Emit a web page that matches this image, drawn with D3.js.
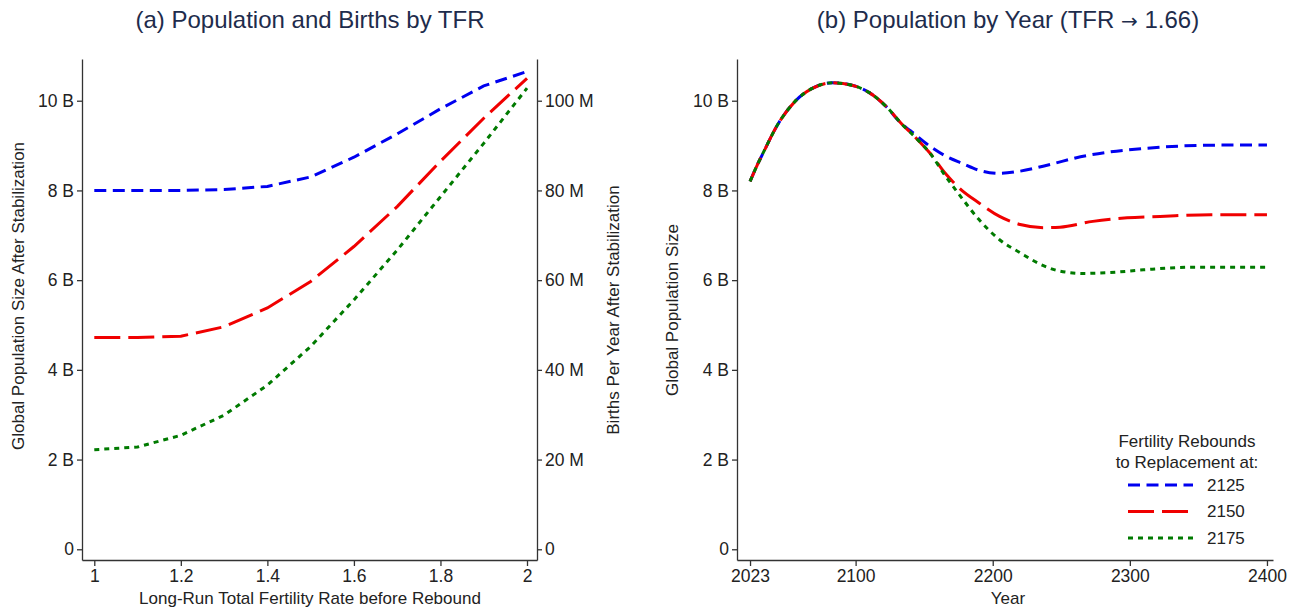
<!DOCTYPE html>
<html>
<head>
<meta charset="utf-8">
<script src="https://cdn.jsdelivr.net/npm/d3@7"></script>
<style>
  body { margin: 0; background: #fff; }
  svg { font-family: "Liberation Sans", Arial, sans-serif; }
  .tick text { font-size: 17.5px; fill: #222; }
  .domain, .tick line { stroke: #333; stroke-width: 1.3; }
</style>
</head>
<body>
<div id="chart"></div>
<script>
// panel (a): stabilised population by long-run TFR
const tfr = [1.0, 1.1, 1.2, 1.3, 1.4, 1.5, 1.6, 1.7, 1.8, 1.9, 2.0];
const popA2125 = [8.0, 8.0, 8.0, 8.02, 8.09, 8.3, 8.74, 9.26, 9.82, 10.33, 10.65];
const popA2150 = [4.72, 4.72, 4.75, 4.96, 5.38, 5.97, 6.75, 7.64, 8.65, 9.61, 10.5];
const popA2175 = [2.22, 2.28, 2.54, 2.99, 3.66, 4.52, 5.56, 6.67, 7.86, 9.05, 10.28];

// panel (b): population by year
const years2125 = [2023, 2028, 2032, 2044, 2056, 2068, 2083, 2098, 2110, 2122, 2134, 2140, 2154, 2166, 2178, 2190, 2205, 2220, 2242, 2264, 2286, 2308, 2337, 2366, 2400];
const popB2125  = [8.2, 8.55, 8.8, 9.51, 9.99, 10.27, 10.4, 10.34, 10.18, 9.88, 9.47, 9.33, 8.99, 8.76, 8.6, 8.45, 8.38, 8.43, 8.58, 8.75, 8.86, 8.93, 8.99, 9.01, 9.01];
const years2150 = [2023, 2028, 2032, 2044, 2056, 2068, 2083, 2098, 2110, 2122, 2134, 2144, 2154, 2166, 2176, 2190, 2205, 2220, 2237, 2249, 2273, 2298, 2322, 2359, 2400];
const popB2150  = [8.2, 8.55, 8.8, 9.51, 9.99, 10.27, 10.4, 10.34, 10.18, 9.88, 9.47, 9.17, 8.84, 8.36, 8.04, 7.72, 7.42, 7.24, 7.17, 7.18, 7.31, 7.39, 7.42, 7.46, 7.46];
const years2175 = [2023, 2028, 2032, 2044, 2056, 2068, 2083, 2098, 2110, 2122, 2134, 2144, 2154, 2166, 2176, 2190, 2205, 2220, 2235, 2249, 2266, 2286, 2310, 2347, 2400];
const popB2175  = [8.2, 8.55, 8.8, 9.51, 9.99, 10.27, 10.4, 10.34, 10.18, 9.88, 9.47, 9.17, 8.84, 8.3, 7.89, 7.35, 6.9, 6.61, 6.35, 6.2, 6.15, 6.17, 6.23, 6.29, 6.29];

const popTicks = [0, 2, 4, 6, 8, 10];
const birthTicks = [0, 20, 40, 60, 80, 100];
const tfrTicks = [1, 1.2, 1.4, 1.6, 1.8, 2];
const yearTicks = [2023, 2100, 2200, 2300, 2400];
const legendLabels = ["2125", "2150", "2175"];

const colors = ["#0000f0", "#f00000", "#007a00"];
const dashes = ["12,6.5", "26,8", "5,5"];

const W = 1303, H = 607;
const svg = d3.select("#chart").append("svg").attr("width", W).attr("height", H);

const plotTop = 59, plotBottom = 560;

// ---- panel (a)
const xA = d3.scaleLinear().domain([0.9716, 2.0231]).range([82, 537]);
const yPop = d3.scaleLinear().domain([-0.239, 10.93]).range([plotBottom, plotTop]);
const yBirth = d3.scaleLinear().domain(yPop.domain().map(d => d * 10)).range([plotBottom, plotTop]);

const popFmt = d => d === 0 ? "0" : d + " B";

svg.append("g").attr("transform", `translate(82,0)`)
   .call(d3.axisLeft(yPop).tickValues(popTicks).tickFormat(popFmt).tickSize(5).tickSizeOuter(0).tickPadding(3));
svg.append("g").attr("transform", `translate(537,0)`)
   .call(d3.axisRight(yBirth).tickValues(birthTicks).tickFormat(d => d === 0 ? "0" : d + " M").tickSize(5).tickSizeOuter(0).tickPadding(3));
svg.append("g").attr("transform", `translate(0,${plotBottom})`)
   .call(d3.axisBottom(xA).tickValues(tfrTicks).tickFormat(d3.format("")).tickSize(6).tickSizeOuter(0).tickPadding(4));

const seriesA = [popA2125, popA2150, popA2175];
const lineA = d3.line().x((d, i) => xA(tfr[i])).y(d => yPop(d));
seriesA.forEach((s, k) => {
  svg.append("path").attr("d", lineA(s))
     .attr("fill", "none").attr("stroke", colors[k]).attr("stroke-width", 3)
     .attr("stroke-dasharray", dashes[k]);
});

// ---- panel (b)
const xB = d3.scaleLinear().domain([2013.5, 2404.4]).range([737, 1273]);

svg.append("g").attr("transform", `translate(737,0)`)
   .call(d3.axisLeft(yPop).tickValues(popTicks).tickFormat(popFmt).tickSize(5).tickSizeOuter(0).tickPadding(3));
svg.append("g").attr("transform", `translate(0,${plotBottom})`)
   .call(d3.axisBottom(xB).tickValues(yearTicks).tickFormat(d3.format("")).tickSize(6).tickSizeOuter(0).tickPadding(4));

const seriesB = [[years2125, popB2125], [years2150, popB2150], [years2175, popB2175]];
seriesB.forEach(([yrs, vals], k) => {
  const line = d3.line().curve(d3.curveMonotoneX).x((d, i) => xB(yrs[i])).y(d => yPop(d));
  svg.append("path").attr("d", line(vals))
     .attr("fill", "none").attr("stroke", colors[k]).attr("stroke-width", 3)
     .attr("stroke-dasharray", dashes[k]);
});

// ---- titles and axis labels
const titleColor = "#1e2c4c";
svg.append("text").attr("x", 310).attr("y", 28).attr("text-anchor", "middle")
   .attr("font-size", 24).attr("fill", titleColor).text("(a) Population and Births by TFR");
const tb = svg.append("text").attr("x", 1008).attr("y", 28).attr("text-anchor", "middle")
   .attr("font-size", 24).attr("fill", titleColor);
tb.append("tspan").text("(b) Population by Year (TFR ");
tb.append("tspan").attr("font-family", "DejaVu Sans").attr("font-size", 20).text("\u2192");
tb.append("tspan").text(" 1.66)");

function label(x, y, txt, rot) {
  svg.append("text")
     .attr("transform", `translate(${x},${y})` + (rot ? " rotate(-90)" : ""))
     .attr("text-anchor", "middle").attr("dominant-baseline", "central")
     .attr("font-size", 17).attr("fill", "#222").text(txt);
}
label(310, 598, "Long-Run Total Fertility Rate before Rebound");
label(18, 296, "Global Population Size After Stabilization", true);
label(613, 310, "Births Per Year After Stabilization", true);
label(1008, 598, "Year");
label(672, 310, "Global Population Size", true);

// ---- legend
const lg = svg.append("g");
lg.append("text").attr("x", 1187).attr("y", 441).attr("text-anchor", "middle")
  .attr("dominant-baseline", "central").attr("font-size", 17).attr("fill", "#222").text("Fertility Rebounds");
lg.append("text").attr("x", 1187).attr("y", 462).attr("text-anchor", "middle")
  .attr("dominant-baseline", "central").attr("font-size", 17).attr("fill", "#222").text("to Replacement at:");
legendLabels.forEach((t, k) => {
  const y = 485 + k * 26.5;
  lg.append("line").attr("x1", 1128).attr("x2", 1193).attr("y1", y).attr("y2", y)
    .attr("stroke", colors[k]).attr("stroke-width", 3).attr("stroke-dasharray", dashes[k]);
  lg.append("text").attr("x", 1207).attr("y", y).attr("dominant-baseline", "central")
    .attr("font-size", 17).attr("fill", "#222").text(t);
});
</script>
</body>
</html>
